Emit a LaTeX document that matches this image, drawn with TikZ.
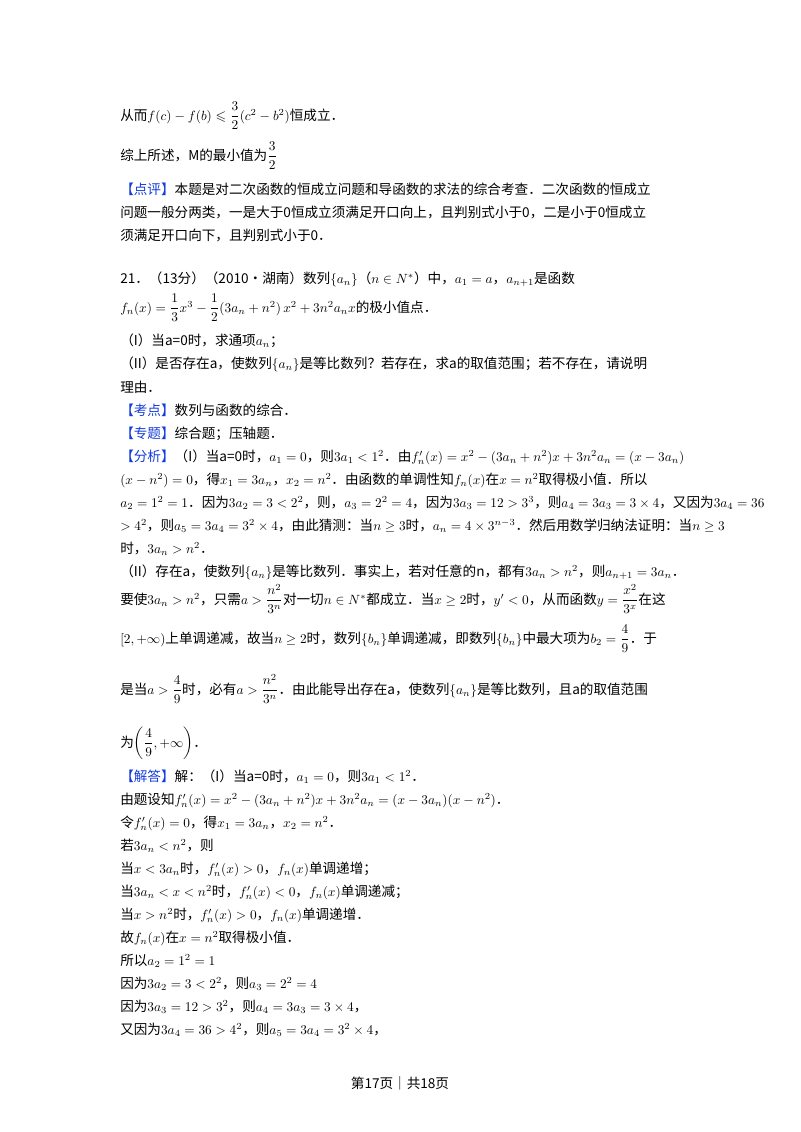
\documentclass[tikz,border=0pt]{standalone}
\usepackage{amsmath,amssymb}
\usepackage{fontspec}
\setmainfont{Noto Sans CJK SC}
\definecolor{kb}{RGB}{20,60,220}
\begin{document}
\begin{tikzpicture}[x=0.75pt,y=-0.75pt,
  ln/.style={anchor=base west,inner sep=0pt,font=\fontsize{10.2}{12}\selectfont}]
\useasboundingbox[fill=white] (0,0) rectangle (800,1132);
\newcommand\kb[1]{\textcolor{kb}{【#1】}}
\node[ln] (l1) at (120,120) {从而$f(c)-f(b)\leqslant\dfrac{3}{2}(c^2-b^2)$恒成立．};
\node[ln] (l2) at (120,160) {综上所述，M的最小值为$\dfrac{3}{2}$};
\node[ln] (l3) at (120,194) {\kb{点评}本题是对二次函数的恒成立问题和导函数的求法的综合考查．二次函数的恒成立};
\node[ln] (l4) at (120,217) {问题一般分两类，一是大于0恒成立须满足开口向上，且判别式小于0，二是小于0恒成立};
\node[ln] (l5) at (120,240) {须满足开口向下，且判别式小于0．};
\node[ln] (l6) at (120,283) {21．（13分）（2010•湖南）数列$\{a_n\}$（$n\in N^*$）中，$a_1=a$，$a_{n+1}$是函数};
\node[ln] (l7) at (120,312) {$f_n(x)=\dfrac{1}{3}x^3-\dfrac{1}{2}(3a_n+n^2)\,x^2+3n^2a_nx$的极小值点．};
\node[ln] (l8) at (120,345) {（I）当a=0时，求通项$a_n$；};
\node[ln] (l9) at (120,368) {（II）是否存在a，使数列$\{a_n\}$是等比数列？若存在，求a的取值范围；若不存在，请说明};
\node[ln] (l10) at (120,392) {理由．};
\node[ln] (l11) at (120,415) {\kb{考点}数列与函数的综合．};
\node[ln] (l12) at (120,438) {\kb{专题}综合题；压轴题．};
\node[ln] (l13) at (120,461) {\kb{分析}（I）当a=0时，$a_1=0$，则$3a_1<1^2$．由$f'_n(x)=x^2-(3a_n+n^2)x+3n^2a_n=(x-3a_n)$};
\node[ln] (l14) at (120,484) {$(x-n^2)=0$，得$x_1=3a_n$，$x_2=n^2$．由函数的单调性知$f_n(x)$在$x=n^2$取得极小值．所以};
\node[ln] (l15) at (120,507) {$a_2=1^2=1$．因为$3a_2=3<2^2$，则，$a_3=2^2=4$，因为$3a_3=12>3^3$，则$a_4=3a_3=3\times4$，又因为$3a_4=36$};
\node[ln] (l16) at (120,530) {$>4^2$，则$a_5=3a_4=3^2\times4$，由此猜测：当$n\geq3$时，$a_n=4\times3^{n-3}$．然后用数学归纳法证明：当$n\geq3$};
\node[ln] (l17) at (120,553) {时，$3a_n>n^2$．};
\node[ln] (l18) at (120,576) {（II）存在a，使数列$\{a_n\}$是等比数列．事实上，若对任意的n，都有$3a_n>n^2$，则$a_{n+1}=3a_n$．};
\node[ln] (l19) at (120,604) {要使$3a_n>n^2$，只需$a>\dfrac{n^2}{3^n}$对一切$n\in N^*$都成立．当$x\geq2$时，$y'<0$，从而函数$y=\dfrac{x^2}{3^x}$在这};
\node[ln] (l20) at (120,643) {$[2,+\infty)$上单调递减，故当$n\geq2$时，数列$\{b_n\}$单调递减，即数列$\{b_n\}$中最大项为$b_2=\dfrac{4}{9}$．于};
\node[ln] (l21) at (120,694) {是当$a>\dfrac{4}{9}$时，必有$a>\dfrac{n^2}{3^n}$．由此能导出存在a，使数列$\{a_n\}$是等比数列，且a的取值范围};
\node[ln] (l22) at (120,747) {为$\left(\dfrac{4}{9},+\infty\right)$．};
\node[ln] (l23) at (120,781) {\kb{解答}解：（I）当a=0时，$a_1=0$，则$3a_1<1^2$．};
\node[ln] (l24) at (120,804) {由题设知$f'_n(x)=x^2-(3a_n+n^2)x+3n^2a_n=(x-3a_n)(x-n^2)$．};
\node[ln] (l25) at (120,827) {令$f'_n(x)=0$，得$x_1=3a_n$，$x_2=n^2$．};
\node[ln] (l26) at (120,850) {若$3a_n<n^2$，则};
\node[ln] (l27) at (120,873) {当$x<3a_n$时，$f'_n(x)>0$，$f_n(x)$单调递增；};
\node[ln] (l28) at (120,896) {当$3a_n<x<n^2$时，$f'_n(x)<0$，$f_n(x)$单调递减；};
\node[ln] (l29) at (120,919) {当$x>n^2$时，$f'_n(x)>0$，$f_n(x)$单调递增．};
\node[ln] (l30) at (120,942) {故$f_n(x)$在$x=n^2$取得极小值．};
\node[ln] (l31) at (120,965) {所以$a_2=1^2=1$};
\node[ln] (l32) at (120,988) {因为$3a_2=3<2^2$，则$a_3=2^2=4$};
\node[ln] (l33) at (120,1011) {因为$3a_3=12>3^2$，则$a_4=3a_3=3\times4$，};
\node[ln] (l34) at (120,1034) {又因为$3a_4=36>4^2$，则$a_5=3a_4=3^2\times4$，};
\node[ln,anchor=base] (ft) at (400,1088) {第17页｜共18页};
\end{tikzpicture}
\end{document}
